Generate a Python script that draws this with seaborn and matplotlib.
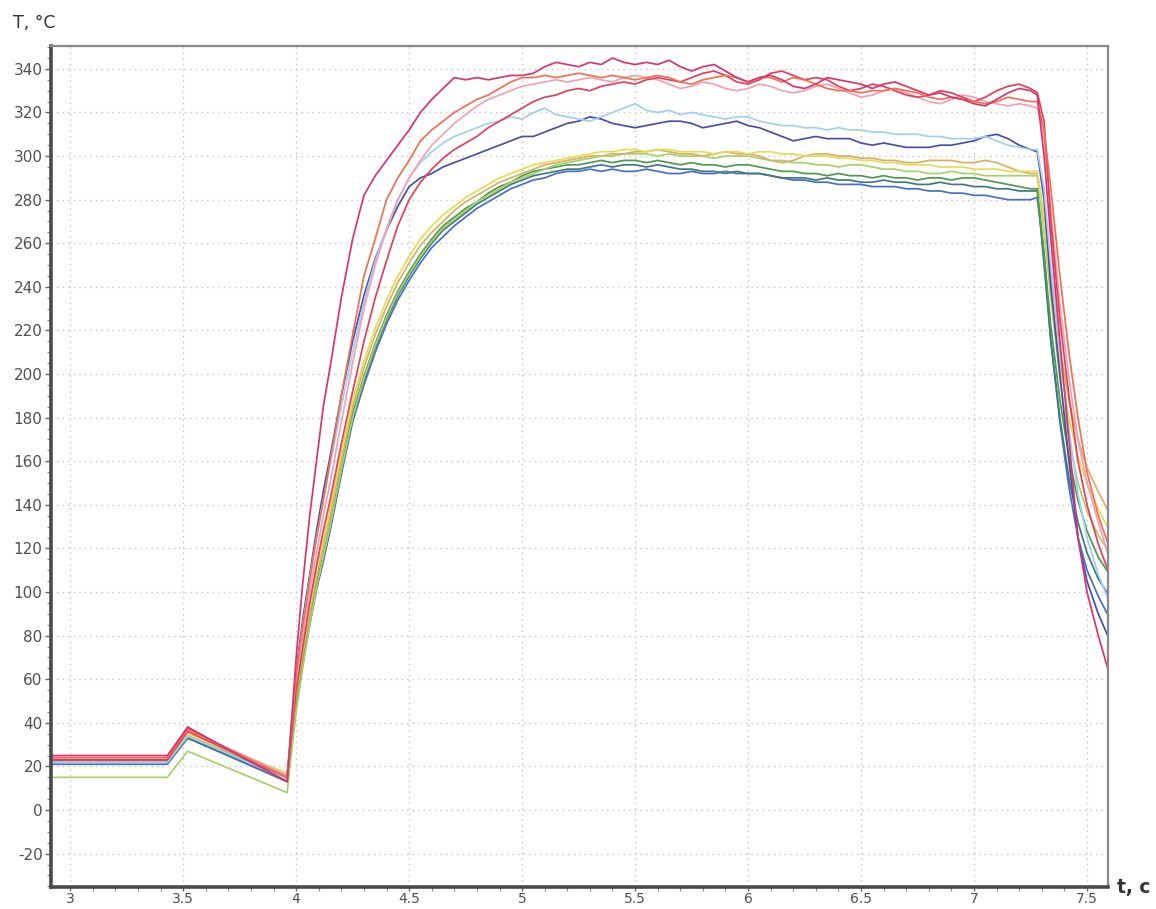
import pandas as pd
import matplotlib
matplotlib.use("Agg")
import matplotlib.pyplot as plt
import seaborn as sns
from matplotlib.ticker import MultipleLocator

# time grid, s
TIME = [2.92, 3.43, 3.52, 3.96,
        4.00, 4.03, 4.06, 4.09, 4.12, 4.15, 4.20, 4.25, 4.30, 4.35, 4.40, 4.45, 4.50, 4.55, 4.60, 4.65, 4.70,
        4.75, 4.80, 4.85, 4.90, 4.95, 5.00, 5.05, 5.10, 5.15, 5.20,
        5.25, 5.30, 5.35, 5.40, 5.45, 5.50, 5.55, 5.60, 5.65, 5.70,
        5.75, 5.80, 5.85, 5.90, 5.95, 6.00, 6.05, 6.10, 6.15, 6.20,
        6.25, 6.30, 6.35, 6.40, 6.45, 6.50, 6.55, 6.60, 6.65, 6.70,
        6.75, 6.80, 6.85, 6.90, 6.95, 7.00, 7.05, 7.10, 7.15, 7.20,
        7.25,
        7.28, 7.31, 7.34, 7.38, 7.42, 7.46, 7.50, 7.55, 7.60]

# temperatures, degC (initial | rise | plateau | drop)
magenta = ([25, 25, 38, 13]
           + [70, 105, 135, 160, 185, 203, 235, 262, 282, 291, 298, 305, 312, 320, 326, 331, 336]
           + [335, 336, 335, 336, 337, 337, 338, 341, 343, 342,
              341, 343, 342, 345, 343, 342, 343, 342, 344, 341,
              339, 341, 342, 339, 336, 334, 336, 337, 335, 332,
              331, 333, 336, 335, 334, 333, 331, 333, 334, 332,
              330, 328, 329, 327, 326, 324, 323, 326, 329, 331,
              330]
           + [328, 300, 262, 215, 170, 125, 100, 80, 62])
orange = ([24, 24, 37, 15]
          + [62, 85, 105, 125, 142, 160, 190, 218, 245, 262, 280, 290, 298, 307, 312, 316, 320]
          + [323, 326, 328, 331, 334, 336, 336, 337, 336, 337,
             338, 337, 336, 337, 336, 335, 336, 337, 336, 334,
             333, 335, 336, 337, 336, 334, 336, 336, 334, 336,
             335, 333, 331, 330, 330, 329, 330, 330, 331, 330,
             329, 327, 326, 327, 326, 325, 324, 325, 327, 326,
             325]
          + [325, 312, 285, 245, 210, 180, 155, 135, 120])
red = ([23, 23, 36, 15]
       + [55, 75, 95, 112, 128, 142, 168, 192, 215, 235, 252, 268, 280, 288, 294, 299, 303]
       + [306, 309, 313, 316, 319, 322, 325, 327, 328, 330,
          331, 330, 332, 333, 334, 333, 335, 336, 335, 334,
          336, 338, 339, 337, 334, 333, 335, 338, 339, 337,
          335, 336, 335, 332, 330, 331, 333, 332, 330, 328,
          327, 328, 330, 329, 327, 325, 327, 330, 332, 333,
          331]
       + [329, 316, 270, 225, 190, 160, 140, 122, 108])
pink = ([24, 24, 37, 16]
        + [60, 80, 100, 118, 135, 150, 178, 205, 230, 250, 266, 280, 290, 298, 305, 310, 315]
        + [319, 323, 326, 328, 330, 332, 333, 334, 335, 334,
           335, 336, 335, 334, 336, 337, 336, 335, 333, 331,
           332, 334, 333, 331, 330, 331, 333, 332, 330, 329,
           330, 332, 333, 331, 329, 327, 328, 330, 331, 329,
           327, 325, 324, 326, 328, 327, 325, 324, 323, 324,
           323]
        + [322, 308, 275, 232, 198, 170, 150, 132, 115])
light_blue = ([22, 22, 34, 14]
              + [62, 85, 106, 125, 142, 158, 185, 210, 233, 252, 267, 280, 290, 297, 302, 306, 309]
              + [311, 313, 315, 316, 318, 317, 320, 322, 319, 318,
                 317, 316, 318, 320, 322, 324, 321, 320, 321, 319,
                 320, 319, 318, 317, 318, 318, 316, 315, 314, 314,
                 313, 313, 312, 313, 312, 312, 311, 311, 310, 310,
                 310, 309, 309, 308, 308, 308, 309, 307, 305, 304,
                 303]
              + [303, 285, 250, 210, 175, 145, 125, 108, 95])
indigo = ([23, 23, 38, 13]
          + [64, 88, 108, 128, 146, 162, 190, 215, 236, 253, 266, 277, 286, 290, 292, 295, 297]
          + [299, 301, 303, 305, 307, 309, 309, 311, 313, 315,
             316, 318, 317, 315, 314, 313, 314, 315, 316, 316,
             315, 313, 314, 315, 316, 314, 313, 311, 309, 307,
             308, 309, 308, 308, 308, 306, 305, 306, 305, 304,
             304, 304, 305, 305, 306, 307, 309, 310, 308, 305,
             303]
          + [302, 280, 240, 200, 160, 125, 105, 90, 78])
yellow = ([23, 23, 35, 17]
          + [55, 75, 93, 110, 124, 138, 164, 188, 206, 221, 234, 245, 254, 262, 268, 273, 277]
          + [281, 284, 287, 290, 292, 294, 296, 297, 298, 299,
             300, 301, 302, 302, 303, 303, 302, 303, 303, 302,
             302, 302, 301, 302, 302, 301, 302, 302, 301, 301,
             300, 300, 300, 299, 299, 298, 298, 297, 297, 296,
             296, 296, 295, 295, 295, 294, 294, 294, 293, 293,
             293]
          + [293, 270, 240, 205, 180, 162, 150, 138, 128])
olive = ([22, 22, 34, 16]
         + [52, 72, 90, 107, 121, 135, 161, 185, 203, 218, 231, 242, 251, 259, 265, 270, 275]
         + [279, 282, 285, 288, 290, 292, 294, 296, 297, 298,
            299, 300, 300, 301, 301, 302, 302, 303, 302, 301,
            301, 300, 301, 302, 301, 301, 300, 298, 297, 298,
            300, 301, 301, 300, 300, 299, 299, 298, 298, 297,
            297, 298, 298, 298, 297, 297, 298, 297, 295, 293,
            292]
         + [292, 272, 245, 212, 188, 170, 157, 146, 136])
yellow_green = ([15, 15, 27, 8]
                + [45, 66, 85, 102, 116, 130, 156, 180, 198, 213, 226, 237, 246, 254, 261, 267, 271]
                + [275, 279, 282, 285, 288, 290, 292, 294, 296, 297,
                   298, 299, 300, 300, 301, 301, 301, 300, 301, 300,
                   300, 300, 299, 300, 300, 300, 299, 298, 298, 297,
                   297, 296, 296, 295, 296, 296, 295, 294, 294, 293,
                   293, 292, 292, 293, 292, 292, 291, 291, 291, 291,
                   291]
                + [291, 265, 235, 198, 170, 150, 137, 126, 118])
green = ([22, 22, 34, 15]
         + [50, 70, 88, 104, 117, 131, 157, 182, 199, 214, 227, 238, 247, 255, 262, 268, 272]
         + [276, 279, 283, 286, 288, 291, 293, 294, 295, 296,
            296, 297, 298, 297, 298, 298, 297, 298, 297, 296,
            297, 296, 296, 295, 296, 296, 295, 294, 293, 293,
            292, 292, 291, 292, 291, 291, 290, 291, 290, 290,
            289, 290, 290, 289, 290, 290, 289, 288, 287, 286,
            285]
         + [285, 255, 222, 188, 162, 142, 128, 116, 108])
teal = ([22, 22, 33, 14]
        + [48, 68, 86, 102, 115, 129, 155, 180, 197, 212, 225, 236, 245, 253, 260, 266, 270]
        + [274, 278, 281, 284, 287, 289, 291, 292, 293, 294,
           294, 295, 296, 295, 296, 296, 295, 296, 295, 294,
           294, 293, 293, 292, 293, 292, 292, 291, 290, 290,
           290, 289, 290, 289, 289, 288, 288, 289, 288, 288,
           287, 287, 288, 287, 287, 286, 286, 285, 285, 284,
           284]
        + [284, 250, 215, 180, 152, 132, 118, 106, 98])
blue = ([21, 21, 33, 13]
        + [47, 67, 85, 101, 114, 128, 154, 178, 195, 210, 223, 234, 243, 251, 258, 263, 268]
        + [272, 276, 279, 282, 285, 287, 289, 290, 292, 293,
           293, 294, 293, 294, 293, 293, 294, 293, 292, 292,
           293, 292, 292, 293, 292, 292, 292, 291, 290, 289,
           289, 288, 288, 287, 287, 287, 286, 286, 286, 285,
           285, 284, 284, 283, 283, 282, 282, 281, 280, 280,
           280]
        + [281, 255, 215, 178, 148, 125, 110, 98, 88])

SERIES = {
    "blue": blue, "teal": teal, "green": green, "yellow_green": yellow_green,
    "olive": olive, "yellow": yellow, "indigo": indigo, "light_blue": light_blue,
    "pink": pink, "red": red, "orange": orange, "magenta": magenta,
}
COLORS = {
    "magenta": "#d8356c", "orange": "#ef7052", "red": "#e2405a", "pink": "#f2a0b4",
    "light_blue": "#9fd0ee", "indigo": "#4a4ea6", "yellow": "#e6da58",
    "olive": "#d6b064", "yellow_green": "#a8d068", "green": "#4f9a4c",
    "teal": "#3f7a80", "blue": "#4770c2",
}

for name, vals in SERIES.items():
    assert len(vals) == len(TIME), (name, len(vals))

df = pd.concat(
    [pd.DataFrame({"t": TIME, "T": vals, "series": name}) for name, vals in SERIES.items()],
    ignore_index=True,
)

sns.set_style("white")
plt.rcParams["font.family"] = ["DejaVu Sans"]

fig = plt.figure(figsize=(11.56, 9.09), dpi=100)
ax = fig.add_axes([0.0441, 0.0242, 0.9144, 0.9252])

sns.lineplot(data=df, x="t", y="T", hue="series", palette=COLORS, estimator=None,
             sort=False, legend=False, linewidth=1.25, ax=ax)

ax.set_xlim(2.915, 7.593)
ax.set_ylim(-35.3, 350.5)
ax.xaxis.set_major_locator(MultipleLocator(0.5))
ax.xaxis.set_minor_locator(MultipleLocator(0.1))
ax.yaxis.set_major_locator(MultipleLocator(20))
ax.yaxis.set_minor_locator(MultipleLocator(5))
ax.xaxis.set_major_formatter(plt.FuncFormatter(lambda v, p: f"{v:g}"))
ax.yaxis.set_major_formatter(plt.FuncFormatter(lambda v, p: f"{v:g}"))
ax.tick_params(which="major", direction="out", length=4, width=1, color="#666",
               labelsize=11, labelcolor="#505050", pad=2, bottom=True, left=True)
ax.tick_params(axis="x", which="major", length=3, labelsize=10, pad=0.5)
ax.tick_params(which="minor", direction="out", length=3, width=0.8, color="#888",
               bottom=True, left=True)
ax.grid(True, which="major", linestyle=(0, (1, 3)), color="#c4c4c4", linewidth=1)
ax.set_xlabel("")
ax.set_ylabel("")

for side in ["left", "bottom"]:
    ax.spines[side].set_linewidth(2.6)
    ax.spines[side].set_color("#4a4a4a")
for side in ["top", "right"]:
    ax.spines[side].set_linewidth(1.6)
    ax.spines[side].set_color("#8a8a8a")

fig.text(0.011, 0.975, "T, °C", fontsize=12.5, color="#333", ha="left", va="center")
fig.text(0.966, 0.024, "t, c", fontsize=13.5, fontweight="bold", color="#333",
         ha="left", va="center")

fig.savefig("out.png", dpi=100)
